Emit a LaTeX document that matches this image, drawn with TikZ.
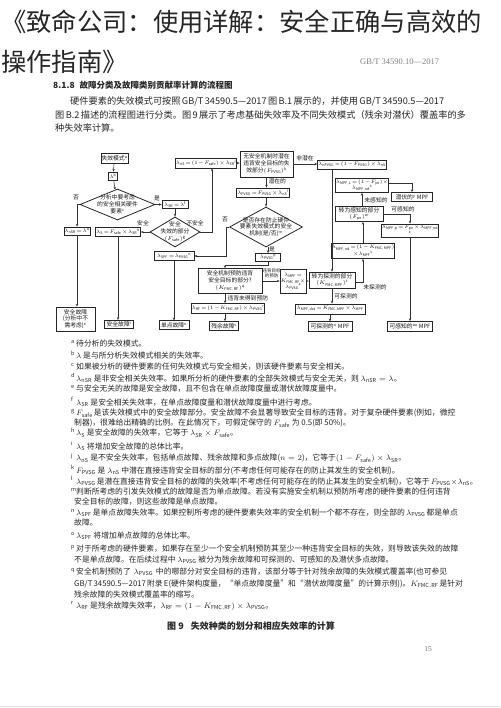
\RequirePackage{fix-cm}
\documentclass[tikz,border=0pt]{standalone}
\usepackage{fontspec}
\setmainfont{Noto Sans CJK SC}
\newfontfamily\serifl{Liberation Serif}
\usetikzlibrary{arrows.meta,shapes.geometric}
\DeclareMathSizes{5}{5}{3.6}{2.8}
\DeclareMathSizes{5.8}{5.4}{3.8}{2.9}
\XeTeXlinebreaklocale "zh"
\XeTeXlinebreakskip=0pt plus 3pt minus 0.6pt
\newcommand{\jl}[2]{\makebox[#1][s]{#2}}
\newcommand{\mk}[1]{\makebox[5pt][l]{$^{\mathrm{#1}}$}}
\newcommand{\rmm}[1]{\mathrm{#1}}
\newcommand{\fcfont}{\fontsize{5}{5.8}\selectfont\thinmuskip=1mu\relax\medmuskip=1.5mu\relax\thickmuskip=2mu\relax}
\newcommand{\fcjk}{\fontsize{5.8}{6.8}\selectfont\thinmuskip=1mu\relax\medmuskip=1.5mu\relax\thickmuskip=2mu\relax}
\begin{document}
\begin{tikzpicture}[x=1pt,y=-1pt,
 fc/.style={font=\fcfont},
 fk/.style={font=\fcjk},
 bx/.style={draw=black!85, line width=0.8pt, inner sep=0.5pt, align=center, fc, text=black!90},
 bk/.style={bx, fk},
 dia/.style={diamond, draw=black!85, line width=0.8pt, inner sep=0pt},
 conn/.style={draw=black!80, line width=0.55pt},
 arr/.style={conn, -{Stealth[length=2.8pt,width=2.4pt]}},
 lbl/.style={fk, inner sep=0.3pt, align=center, text=black!90},
 nt/.style={font=\fontsize{7.8}{9}\selectfont, anchor=west, inner sep=0pt, text=black!85},
 bt/.style={font=\fontsize{9.2}{11}\selectfont, anchor=west, inner sep=0pt, text=black!85}]
\fill[white] (0,0) rectangle (500,708);
\useasboundingbox (0,0) rectangle (500,708);

% title and header
\node[anchor=west, inner sep=0pt, font=\fontsize{25.3}{30}\selectfont, text=black!85] (t1) at (1,22) {《致命公司：使用详解：安全正确与高效的};
\node[anchor=west, inner sep=0pt, font=\fontsize{25.3}{30}\selectfont, text=black!85] (t2) at (1,62) {操作指南》};
\node[anchor=west, inner sep=0pt, font=\serifl\fontsize{8.5}{10}\selectfont, text=black!50] (hdr) at (360,62) {GB/T 34590.10—2017};
\node[anchor=west, inner sep=0pt, font=\fontsize{8.5}{10}\selectfont\bfseries, text=black!85] (h1) at (53,85) {8.1.8\hspace{5pt}\jl{190pt}{故障分类及故障类别贡献率计算的流程图}};
\node[bt] (p1) at (70,101) {\jl{373pt}{硬件要素的失效模式可按照 GB/T 34590.5—2017 图 B.1 展示的，并使用 GB/T 34590.5—2017}};
\node[bt] (p2) at (55,115) {\jl{388pt}{图 B.2 描述的流程图进行分类。图 9 展示了考虑基础失效率及不同失效模式（残余对潜伏）覆盖率的多}};
\node[bt] (p3) at (55,128) {种失效率计算。};

% ---------- flowchart ----------
\node[bk, minimum width=26pt, minimum height=9.5pt] (fm) at (114.5,158.5) {失效模式$^{\rmm a}$};
\node[bx, minimum width=9pt, minimum height=8pt] (lam) at (113,176) {$\lambda^{\rmm b}$};
\node[dia, minimum width=75pt, minimum height=31pt] (d1) at (117.5,204.5) {};
\node[lbl] (d1t) at (d1) {分析中要考虑\\的安全相关硬件\\要素$^{\rmm c}$};
\node[bx, minimum width=24pt, minimum height=8pt] (nsr) at (77,231) {$\lambda_{\rmm{nSR}}=\lambda^{\rmm d}$};
\node[bx, minimum width=26pt, minimum height=8pt] (sr) at (175,204.5) {$\lambda_{\rmm{SR}}=\lambda^{\rmm f}$};
\node[dia, minimum width=50pt, minimum height=30pt] (d2) at (175,232) {};
\node[lbl] (d2t) at (d2) {安全\\失效的部分\\$(F_{\rmm{safe}})^{\rmm g}$};
\node[bx, minimum width=44pt, minimum height=9pt] (ls) at (118,231.5) {$\lambda_{\rmm S}=F_{\rmm{safe}}\times\lambda_{\rmm{SR}}{}^{\rmm h}$};
\node[bx, minimum width=54pt, minimum height=10pt] (ns) at (206,163) {$\lambda_{\rmm{nS}}=(1-F_{\rmm{safe}})\times\lambda_{\rmm{SR}}{}^{\rmm j}$};
\node[bk, minimum width=53pt, minimum height=26pt] (fpvsg) at (266.5,164) {无安全机制时潜在\\违背安全目标的失\\效部分$(F_{\rmm{PVSG}})^{\rmm k}$};
\node[bx, minimum width=46pt, minimum height=9pt] (pvsg) at (263,192.5) {$\lambda_{\rmm{PVSG}}=F_{\rmm{PVSG}}\times\lambda_{\rmm{nS}}{}^{\rmm l}$};
\node[bx, minimum width=56pt, minimum height=9pt] (npvsg) at (352,164.5) {$\lambda_{\rmm{nPVSG}}=(1-F_{\rmm{PVSG}})\times\lambda_{\rmm{nS}}$};
\node[dia, minimum width=73pt, minimum height=40pt] (d3) at (266,227) {};
\node[lbl] (d3t) at (d3) {是否存在防止硬件\\要素失效模式的安全\\机制(是/否)$^{\rmm m}$};
\node[bx, minimum width=40pt, minimum height=9pt] (spf) at (174,256) {$\lambda_{\rmm{SPF}}=\lambda_{\rmm{PVSG}}{}^{\rmm n}$};
\node[bx, minimum width=25pt, minimum height=8pt] (yes) at (268,257.5) {$\lambda_{\rmm{PVSG}}{}^{\rmm p}$};
\node[bk, minimum width=64pt, minimum height=25pt] (sm) at (230,281) {安全机制预防违背\\安全目标的部分?\\$(K_{\rmm{FMC,RF}})^{\rmm q}$};
\node[bx, minimum width=26pt, minimum height=24pt] (mpf1) at (293,281) {$\lambda_{\rmm{MPF}}=$\\$K_{\rmm{FMC,RF}}\times$\\$\lambda_{\rmm{PVSG}}{}^{\rmm s}$};
\node[bk, minimum width=46pt, minimum height=16pt] (det) at (332,280) {转为探测的部分\\$(K_{\rmm{FMC,MPF}})^{\rmm t}$};
\node[bx, minimum width=70pt, minimum height=10pt] (detbox) at (330,309) {$\lambda_{\rmm{MPF,det}}=K_{\rmm{FMC,MPF}}\times\lambda_{\rmm{MPF}}$};
\node[bk, minimum width=44pt, minimum height=9.5pt] (detmpf) at (330,326.5) {可探测的$^{\rmm u}$ MPF};
\node[bx, minimum width=58pt, minimum height=15pt] (nd) at (363,251) {$\lambda_{\rmm{MPF,nd}}=(1-K_{\rmm{FMC,MPF}})$\\$\times\lambda_{\rmm{MPF}}{}^{\rmm v}$};
\node[bk, minimum width=48pt, minimum height=15pt] (pe) at (359,214) {转为感知的部分\\$(F_{\rmm{pe}})^{\rmm w}$};
\node[bx, minimum width=53pt, minimum height=14pt] (lat) at (362,185.5) {$\lambda_{\rmm{MPF,L}}=(1-F_{\rmm{pe}})\times$\\$\lambda_{\rmm{MPF,nd}}{}^{\rmm x}$};
\node[bk, minimum width=41pt, minimum height=9pt] (latmpf) at (412,197) {潜伏的$^{\rmm y}$ MPF};
\node[bx, minimum width=54pt, minimum height=13pt] (pbox) at (410,230.5) {$\lambda_{\rmm{MPF,p}}=F_{\rmm{pe}}\times\lambda_{\rmm{MPF,nd}}$\\$^{\rmm z}$};
\node[bk, minimum width=45pt, minimum height=10pt] (pmpf) at (410,326.5) {可感知的$^{\rmm{aa}}$ MPF};
\node[bx, minimum width=70pt, minimum height=10pt] (rf) at (228,308.5) {$\lambda_{\rmm{RF}}=(1-K_{\rmm{FMC,RF}})\times\lambda_{\rmm{PVSG}}{}^{\rmm r}$};
\node[bk, minimum width=29pt, minimum height=9pt] (res) at (224,326) {残余故障$^{\rmm{s}}$};
\node[bk, minimum width=39pt, minimum height=24pt] (sf1) at (75.5,319) {安全故障\\(分析中不\\需考虑)$^{\rmm e}$};
\node[bk, minimum width=29pt, minimum height=8.5pt] (sf2) at (119,324.5) {安全故障$^{\rmm i}$};
\node[bk, minimum width=30pt, minimum height=8.5pt] (spft) at (174,325) {单点故障$^{\rmm o}$};

% connectors
\draw[arr] (fm) -- (lam);
\draw[arr] (lam) -- (d1);
\draw[arr] (d1.west) -| (nsr.north);
\draw[arr] (d1.east) -- (sr.west);
\draw[arr] (sr) -- (d2);
\draw[arr] (d2.west) -- (ls.east |- d2.west);
\coordinate (c1) at (212,232);
\draw[arr] (d2.east) -- (c1) -- (c1 |- ns.south);
\draw[arr] (ns.east) -- (fpvsg.west |- ns.east);
\draw[arr] (fpvsg.south) -- (fpvsg.south |- pvsg.north);
\draw[arr] (fpvsg.east) -- (npvsg.west |- fpvsg.east);
\draw[arr] (pvsg.south -| d3) -- (d3.north);
\draw[arr] (d3.west) -- ++(-3,0) |- (spf.east);
\draw[arr] (d3.south -| yes) -- (yes.north);
\coordinate (c2) at (225,265.5);
\draw[arr] (yes.south) |- (c2) -- (c2 |- sm.north);
\draw[arr] (sm.east) -- (mpf1.west |- sm.east);
\draw[arr] (mpf1.east) -- (det.west |- mpf1.east);
\draw[arr] (det.north |- npvsg.south) -- (det.north);
\draw[arr] (det.south) -- (det.south |- detbox.north);
\draw[arr] (detbox.south) -- (detbox.south |- detmpf.north);
\draw[arr] ([yshift=-2pt]det.east) -| (nd.south);
\draw[arr] (nd.north) -- (nd.north |- pe.south);
\draw[arr] (pe.north -| lat) -- (lat.south);
\draw[arr] ([yshift=2.5pt]lat.east) -| (latmpf.north);
\draw[arr] (pe.east) -| (pbox.north);
\draw[arr] (pbox.south) -- (pbox.south |- pmpf.north);
\draw[arr] (c2 |- sm.south) -- (c2 |- rf.north);
\draw[arr] (c2 |- rf.south) -- (c2 |- res.north);
\draw[arr] (nsr.south) -- (nsr.south |- sf1.north);
\draw[arr] (ls.south) -- (ls.south |- sf2.north);
\draw[arr] (spf.south) -- (spf.south |- spft.north);

% connector labels
\node[lbl] (l1) at (76,197) {否};
\node[lbl] (l2) at (157,198) {是};
\node[lbl] (l3) at (143,223) {安全};
\node[lbl] (l4) at (195,223) {不安全};
\node[lbl, anchor=west] (l5) at (268,181) {潜在的};
\node[lbl] (l6) at (305,158) {非潜在};
\node[lbl] (l7) at (225,219) {否};
\node[lbl] (l8) at (272,249.5) {是};
\node[lbl, font=\fontsize{4.5}{5}\selectfont] (l9) at (271.5,273) {违背目标\\的预防};
\node[lbl, anchor=west] (l10) at (227,298.5) {违背未得到预防};
\node[lbl] (l11) at (375,287) {未探测的};
\node[lbl] (l12) at (346,296.5) {可探测的};
\node[lbl] (l13) at (376,200.5) {未感知的};
\node[lbl] (l14) at (403,209) {可感知的};

% ---------- notes ----------
\node[nt] (na) at (71,344) {\mk{a}待分析的失效模式。};
\node[nt] (nb) at (71,355) {\mk{b}$\lambda$ 是与所分析失效模式相关的失效率。};
\node[nt] (nc) at (71,367) {\mk{c}如果被分析的硬件要素的任何失效模式与安全相关，则该硬件要素与安全相关。};
\node[nt] (nd1) at (71,378) {\mk{d}$\lambda_{\rmm{nSR}}$ 是非安全相关失效率。如果所分析的硬件要素的全部失效模式与安全无关，则 $\lambda_{\rmm{nSR}}=\lambda$。};
\node[nt] (ne) at (71,389) {\mk{e}与安全无关的故障是安全故障，且不包含在单点故障度量或潜伏故障度量中。};
\node[nt] (nf) at (71,402) {\mk{f}$\lambda_{\rmm{SR}}$ 是安全相关失效率，在单点故障度量和潜伏故障度量中进行考虑。};
\node[nt] (ng) at (71,413) {\mk{g}\jl{371pt}{$F_{\rmm{safe}}$ 是该失效模式中的安全故障部分。安全故障不会显著导致安全目标的违背。对于复杂硬件要素(例如，微控}};
\node[nt] (ng2) at (74,423) {制器)，很难给出精确的比例。在此情况下，可假定保守的 $F_{\rmm{safe}}$ 为 0.5(即 50\%)。};
\node[nt] (nh) at (71,433) {\mk{h}$\lambda_{\rmm S}$ 是安全故障的失效率，它等于 $\lambda_{\rmm{SR}}\times F_{\rmm{safe}}$。};
\node[nt] (ni) at (71,446) {\mk{i}$\lambda_{\rmm S}$ 将增加安全故障的总体比率。};
\node[nt] (nj) at (71,458) {\mk{j}$\lambda_{\rmm{nS}}$ 是不安全失效率，包括单点故障、残余故障和多点故障($n=2$)，它等于$(1-F_{\rmm{safe}})\times\lambda_{\rmm{SR}}$。};
\node[nt] (nk) at (71,470) {\mk{k}$F_{\rmm{PVSG}}$ 是 $\lambda_{\rmm{nS}}$ 中潜在直接违背安全目标的部分(不考虑任何可能存在的防止其发生的安全机制)。};
\node[nt] (nl) at (71,481) {\mk{l}\jl{371pt}{$\lambda_{\rmm{PVSG}}$ 是潜在直接违背安全目标的故障的失效率(不考虑任何可能存在的防止其发生的安全机制)，它等于 $F_{\rmm{PVSG}}\times\lambda_{\rmm{nS}}$。}};
\node[nt] (nm) at (71,492) {\mk{m}\jl{371pt}{判断所考虑的引发失效模式的故障是否为单点故障。若没有实施安全机制以预防所考虑的硬件要素的任何违背}};
\node[nt] (nm2) at (74,502) {安全目标的故障，则这些故障是单点故障。};
\node[nt] (nn) at (71,513) {\mk{n}\jl{371pt}{$\lambda_{\rmm{SPF}}$ 是单点故障失效率。如果控制所考虑的硬件要素失效率的安全机制一个都不存在，则全部的 $\lambda_{\rmm{PVSG}}$ 都是单点}};
\node[nt] (nn2) at (74,523) {故障。};
\node[nt] (no) at (71,536) {\mk{o}$\lambda_{\rmm{SPF}}$ 将增加单点故障的总体比率。};
\node[nt] (np) at (71,549) {\mk{p}\jl{371pt}{对于所考虑的硬件要素，如果存在至少一个安全机制预防其至少一种违背安全目标的失效，则导致该失效的故障}};
\node[nt] (np2) at (74,560) {不是单点故障。在后续过程中 $\lambda_{\rmm{PVSG}}$ 被分为残余故障和可探测的、可感知的及潜伏多点故障。};
\node[nt] (nq) at (71,572) {\mk{q}\jl{371pt}{安全机制预防了 $\lambda_{\rmm{PVSG}}$ 中的哪部分对安全目标的违背，该部分等于针对残余故障的失效模式覆盖率(也可参见}};
\node[nt] (nq2) at (74,584) {\jl{373pt}{GB/T 34590.5—2017 附录 E(硬件架构度量，“单点故障度量”和“潜伏故障度量”的计算示例))。$K_{\rmm{FMC,RF}}$ 是针对}};
\node[nt] (nq3) at (74,595) {残余故障的失效模式覆盖率的缩写。};
\node[nt] (nr) at (71,606) {\mk{r}$\lambda_{\rmm{RF}}$ 是残余故障失效率，$\lambda_{\rmm{RF}}=(1-K_{\rmm{FMC,RF}})\times\lambda_{\rmm{PVSG}}$。};

\node[font=\fontsize{9}{11}\selectfont\bfseries, text=black!85, inner sep=0pt] (cap) at (251,626) {图 9\hspace{7pt}失效种类的划分和相应失效率的计算};
\node[font=\serifl\fontsize{7.5}{9}\selectfont, text=black!55, inner sep=0pt] (pg) at (428,649) {15};
\draw[black!12, line width=0.6pt] (0,706.5) -- (500,706.5);
\end{tikzpicture}
\end{document}
